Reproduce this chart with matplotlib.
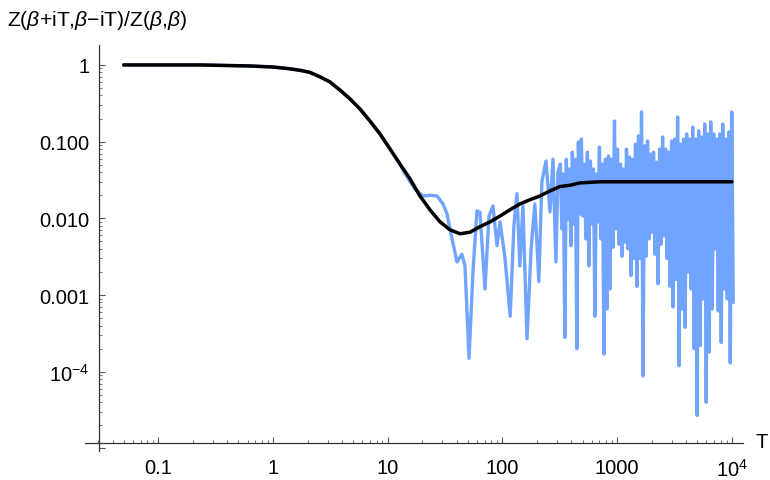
import numpy as np
import matplotlib
matplotlib.use("Agg")
import matplotlib.pyplot as plt
from matplotlib.ticker import LogLocator, FixedLocator, FixedFormatter, NullFormatter

plt.rcParams["font.family"] = ["Liberation Sans", "DejaVu Sans"]
plt.rcParams["mathtext.fontset"] = "custom"
plt.rcParams["mathtext.rm"] = "Liberation Sans"
plt.rcParams["mathtext.it"] = "Liberation Sans:italic"

# smooth (black) curve
black_T = [0.05, 0.231, 0.63, 1.0, 1.41, 1.73, 2.1, 2.57, 3.14, 3.84, 4.7, 5.73, 7.0, 8.57,
           10.5, 12.8, 15.6, 19.1, 23.4, 28.6, 34.9, 42.7, 52.2, 63.8, 78, 95.3, 116, 142,
           174, 213, 260, 318, 388, 475, 710, 1585, 4000, 10000]
black_Z = [1.0, 1.0, 0.97, 0.94, 0.89, 0.85, 0.80, 0.70, 0.60, 0.47, 0.36, 0.267, 0.186, 0.126,
           0.080, 0.051, 0.033, 0.0196, 0.0129, 0.0090, 0.0071, 0.0063, 0.0066, 0.0078, 0.0090,
           0.0107, 0.0129, 0.0154, 0.0175, 0.0196, 0.0228, 0.026, 0.027, 0.029, 0.030, 0.030,
           0.030, 0.030]

# fluctuating (blue) curve, early part
blue_T = [0.05, 0.231, 0.63, 1.0, 1.41, 1.73, 2.1, 2.57, 3.14, 3.84, 4.7, 5.73, 7.0, 8.57,
          10.5, 12.8, 14.2, 17.3, 20.3, 23.4, 26.9, 30.4, 32.9, 36.4, 40.2, 44.4, 47.2, 51.2,
          55.4, 60.0, 63.8, 70.5, 76.4, 82.8, 89.8, 95.3, 105, 117, 126, 134, 142, 151, 164,
          178, 192, 208, 221, 240, 260, 276, 293, 305]
blue_Z = [1.0, 1.0, 0.97, 0.94, 0.89, 0.85, 0.80, 0.70, 0.60, 0.47, 0.36, 0.267, 0.186, 0.126,
          0.080, 0.051, 0.038, 0.024, 0.0196, 0.020, 0.0196, 0.0154, 0.0114, 0.0054, 0.0027,
          0.0034, 0.0024, 0.00015, 0.0020, 0.0125, 0.012, 0.0012, 0.0107, 0.0145, 0.0044,
          0.0090, 0.0032, 0.00053, 0.0080, 0.021, 0.0024, 0.0145, 0.00027, 0.0040, 0.0154,
          0.0015, 0.030, 0.056, 0.0121, 0.059, 0.0027, 0.040]

# late part: the blue curve oscillates faster than a pixel, read as upper / lower values
dense_T_start, dense_T_end = 320, 10000
dense_top = [0.051, 0.038, 0.059, 0.044, 0.073, 0.059, 0.099, 0.108, 0.051, 0.073,
             0.056, 0.044, 0.038, 0.085, 0.051, 0.059, 0.065, 0.059, 0.186, 0.080,
             0.051, 0.044, 0.080, 0.063, 0.059, 0.093, 0.119, 0.244, 0.088, 0.102,
             0.069, 0.073, 0.054, 0.080, 0.115, 0.080, 0.073, 0.102, 0.108, 0.210,
             0.093, 0.108, 0.126, 0.108, 0.155, 0.108, 0.138, 0.115, 0.170, 0.126,
             0.181, 0.126, 0.108, 0.126, 0.170, 0.108, 0.134, 0.244]
dense_bottom = [0.0073, 0.00028, 0.0098, 0.0044, 0.0085, 0.00020, 0.0114, 0.0107, 0.0054, 0.0024,
                0.0085, 0.00053, 0.0090, 0.0054, 0.00017, 0.00066, 0.0012, 0.0042, 0.0073, 0.0046,
                0.0032, 0.0049, 0.0040, 0.0018, 0.0030, 0.0013, 0.0030, 0.000088, 0.0032, 0.0054,
                0.0066, 0.0034, 0.0014, 0.0046, 0.0059, 0.0030, 0.0013, 0.00070, 0.0016, 0.00012,
                0.00066, 0.00038, 0.0020, 0.0012, 0.00020, 0.000027, 0.00022, 0.00089, 0.000040, 0.00018,
                0.00066, 0.0040, 0.00062, 0.00024, 0.0012, 0.00089, 0.00013, 0.00081]

x_major = [0.1, 1, 10, 100, 1000, 10000]
x_labels = ["0.1", "1", "10", "100", "1000", r"$10^{4}$"]
y_major = [1, 0.1, 0.01, 0.001, 1e-4, 1e-5]
y_labels = ["1", "0.100", "0.010", "0.001", r"$10^{-4}$", ""]

BLUE = "#70a4ff"


def build_blue():
    n = len(dense_top)
    grid = np.geomspace(dense_T_start, dense_T_end, n)
    half = (grid[1] / grid[0]) ** 0.5
    T = list(blue_T)
    Z = list(blue_Z)
    for i in range(n):
        T += [grid[i], grid[i] * half]
        Z += [dense_top[i], dense_bottom[i]]
    return T, Z


def main():
    fig = plt.figure(figsize=(7.7, 4.81), dpi=100)
    ax = fig.add_axes([85 / 770, 29 / 481, 658 / 770, 406 / 481])

    T, Z = build_blue()
    ax.plot(T, Z, color=BLUE, lw=2.4, solid_joinstyle="round")
    ax.plot(black_T, black_Z, color="black", lw=2.5, solid_capstyle="round",
            solid_joinstyle="round")

    ax.set_xscale("log")
    ax.set_yscale("log")
    ax.set_xlim(0.02296, 12530)
    ax.set_ylim(9.27e-6, 1.82)

    for s in ["top", "right"]:
        ax.spines[s].set_visible(False)
    ax.spines["bottom"].set_position(("data", 1.18e-5))
    ax.spines["left"].set_position(("data", 0.0304))
    for s in ["bottom", "left"]:
        ax.spines[s].set_color("#333333")
        ax.spines[s].set_linewidth(0.9)

    ax.xaxis.set_major_locator(FixedLocator(x_major))
    ax.xaxis.set_major_formatter(FixedFormatter(x_labels))
    ax.xaxis.set_minor_locator(LogLocator(base=10, subs=np.arange(2, 10), numticks=20))
    ax.xaxis.set_minor_formatter(NullFormatter())
    ax.yaxis.set_major_locator(FixedLocator(y_major))
    ax.yaxis.set_major_formatter(FixedFormatter(y_labels))
    ax.yaxis.set_minor_locator(LogLocator(base=10, subs=np.arange(2, 10), numticks=20))
    ax.yaxis.set_minor_formatter(NullFormatter())

    ax.tick_params(which="major", direction="in", length=4, width=0.8, color="#555555",
                   labelsize=14.5, pad=11)
    ax.tick_params(which="minor", direction="in", length=2.2, width=0.7, color="#777777")
    ax.tick_params(axis="y", which="major", pad=7)

    fig.text(7 / 770, 1 - 21 / 481, r"Z($\beta$+iT,$\beta$−iT)/Z($\beta$,$\beta$)",
             fontsize=15.2, ha="left", va="center")
    fig.text(762 / 770, 1 - 443 / 481, "T", fontsize=14.5, ha="center", va="center")

    fig.savefig("out.png", dpi=100)


if __name__ == "__main__":
    main()
